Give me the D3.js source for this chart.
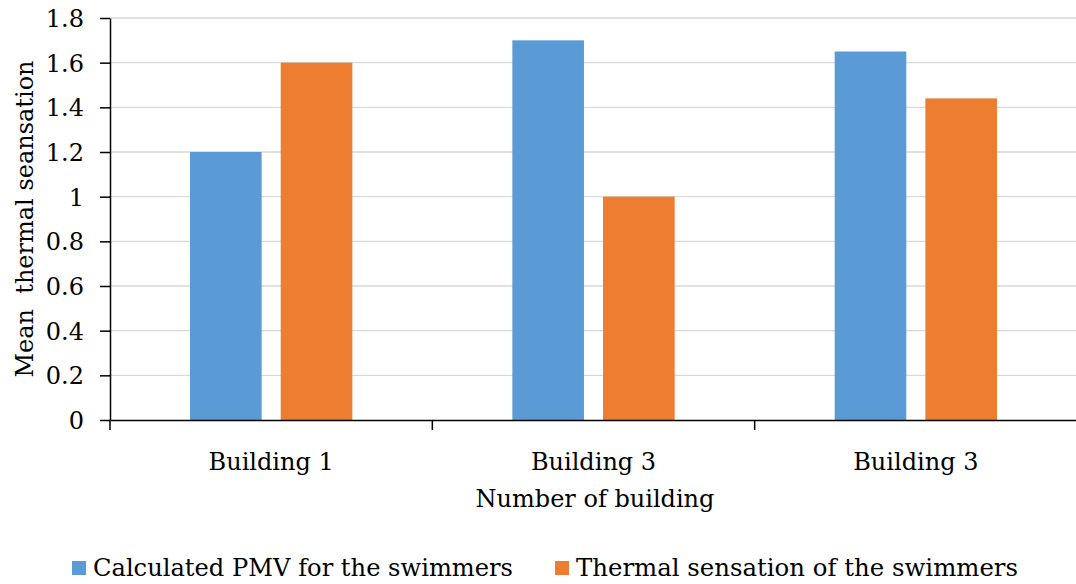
<!DOCTYPE html>
<html>
<head>
<meta charset="utf-8">
<script src="https://cdn.jsdelivr.net/npm/d3@7"></script>
<style>
  body { margin: 0; background: #fff; }
  text { font-family: "DejaVu Serif", "Liberation Serif", serif; fill: #000; }
</style>
</head>
<body>
<div id="chart"></div>
<script>
// data
const categories = ['Building 1', 'Building 3', 'Building 3'];
const seriesNames = ['Calculated PMV for the swimmers', 'Thermal sensation of the swimmers'];
const pmvValues = [1.2, 1.7, 1.65];
const sensationValues = [1.6, 1.0, 1.44];
const yTicks = [0, 0.2, 0.4, 0.6, 0.8, 1, 1.2, 1.4, 1.6, 1.8];
const colors = ['#5b9bd5', '#ed7d31'];

const width = 1076, height = 584;
const margin = { top: 18, right: 0, bottom: 164, left: 110 };

const svg = d3.select('#chart').append('svg')
    .attr('width', width)
    .attr('height', height);

const chartW = width - margin.left - margin.right + 1,
      chartH = height - margin.top - margin.bottom;

const chart = svg.append('g')
    .attr('transform', `translate(${margin.left}, ${margin.top})`);

// scales
const x = d3.scaleBand(d3.range(categories.length), [0, chartW]).paddingInner(0).paddingOuter(0);
const inner = d3.scaleBand([0, 1], [80, x.bandwidth() - 80]).paddingInner(0.21);
const y = d3.scaleLinear([0, 1.8], [chartH, 0]);

// gridlines
chart.append('g')
    .selectAll('line')
    .data(yTicks.filter(d => d > 0))
    .join('line')
    .attr('x1', 0).attr('x2', chartW)
    .attr('y1', d => y(d)).attr('y2', d => y(d))
    .attr('stroke', '#d9d9d9')
    .attr('stroke-width', 1.3);

// bars
const rows = categories.map((c, i) => ({ i, values: [pmvValues[i], sensationValues[i]] }));
chart.append('g')
    .selectAll('g')
    .data(rows)
    .join('g')
    .attr('transform', d => `translate(${x(d.i)}, 0)`)
    .selectAll('rect')
    .data(d => d.values.map((v, k) => ({ k, v })))
    .join('rect')
    .attr('x', d => inner(d.k))
    .attr('width', inner.bandwidth())
    .attr('y', d => y(d.v))
    .attr('height', d => y(0) - y(d.v))
    .attr('fill', d => colors[d.k]);

// axes
const axisY = chart.append('g')
    .call(d3.axisLeft(y).tickValues(yTicks).tickFormat(d => d3.format('')(+d.toFixed(1))).tickSize(10).tickSizeOuter(0));
axisY.select('.domain').attr('stroke', '#000').attr('stroke-width', 1.5);
axisY.selectAll('.tick line').attr('stroke', '#000').attr('stroke-width', 1.5);
axisY.selectAll('.tick text')
    .attr('x', -26)
    .attr('dy', '0.36em')
    .style('font-size', '24px')
    .style('font-family', '"DejaVu Serif", serif');

const axisX = chart.append('g')
    .attr('transform', `translate(0, ${chartH})`)
    .call(d3.axisBottom(x).tickValues([]).tickSizeOuter(0));
axisX.select('.domain').attr('stroke', '#000').attr('stroke-width', 1.5);

// category boundary ticks
axisX.selectAll('line.sep')
    .data(d3.range(categories.length + 1))
    .join('line')
    .attr('class', 'sep')
    .attr('x1', d => d * x.step()).attr('x2', d => d * x.step())
    .attr('y1', 0).attr('y2', 10)
    .attr('stroke', '#000').attr('stroke-width', 1.5);

axisX.selectAll('text.cat')
    .data(categories)
    .join('text')
    .attr('class', 'cat')
    .attr('x', (d, i) => x(i) + x.bandwidth() / 2)
    .attr('y', 50)
    .attr('text-anchor', 'middle')
    .style('font-size', '24px')
    .text(d => d);

// axis labels
svg.append('text')
    .attr('x', 595).attr('y', 507)
    .attr('text-anchor', 'middle')
    .style('font-size', '24px')
    .text('Number of building');

svg.append('text')
    .attr('transform', `translate(33, ${margin.top + chartH / 2}) rotate(-90)`)
    .attr('text-anchor', 'middle')
    .style('font-size', '24px')
    .attr('xml:space', 'preserve')
    .text('Mean  thermal seansation');

// legend
const legendX = [72, 555];
const legend = svg.append('g').selectAll('g')
    .data(seriesNames)
    .join('g')
    .attr('transform', (d, i) => `translate(${legendX[i]}, 568)`);
legend.append('rect')
    .attr('x', 0).attr('y', -7)
    .attr('width', 14).attr('height', 14)
    .attr('fill', (d, i) => colors[i]);
legend.append('text')
    .attr('x', 21).attr('y', 8)
    .style('font-size', '25px')
    .attr('textLength', (d, i) => [420, 442][i])
    .attr('lengthAdjust', 'spacingAndGlyphs')
    .text(d => d);
</script>
</body>
</html>
